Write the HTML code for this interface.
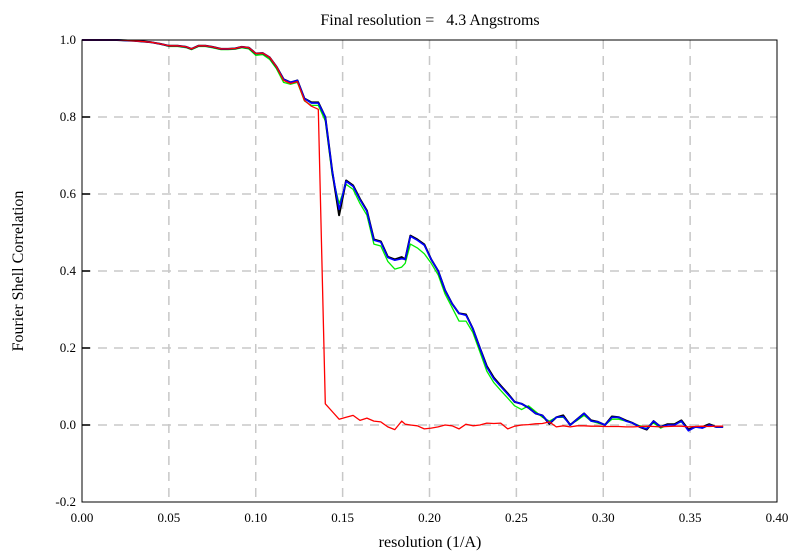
<!DOCTYPE html>
<html><head><meta charset="utf-8"><style>
body{margin:0;background:#fff;}
svg text{font-family:"Liberation Serif",serif;fill:#000;}
</style></head><body>
<svg id="chart" width="800" height="555" xmlns="http://www.w3.org/2000/svg">
<text x="430" y="25" font-size="16" text-anchor="middle" xml:space="preserve">Final resolution =   4.3 Angstroms</text>
<text x="430" y="547" font-size="16" text-anchor="middle">resolution (1/A)</text>
<text x="0" y="0" font-size="16" text-anchor="middle" transform="translate(23,271) rotate(-90)">Fourier Shell Correlation</text>
<g id="grid"></g>
<g id="series"></g>
<rect x="82" y="40" width="695" height="462" fill="none" stroke="#000" stroke-width="1"/>
<g id="ticks"></g>
</svg>
<script>
const xTicks=[0,0.05,0.10,0.15,0.20,0.25,0.30,0.35,0.40];
const xTickLabels=["0.00","0.05","0.10","0.15","0.20","0.25","0.30","0.35","0.40"];
const yTicks=[-0.2,0,0.2,0.4,0.6,0.8,1.0];
const yTickLabels=["-0.2","0.0","0.2","0.4","0.6","0.8","1.0"];
const xs=[0,0.005,0.01,0.015,0.02,0.025,0.03,0.035,0.04,0.045,0.05,0.055,0.06,0.063,0.067,0.071,0.075,0.08,0.084,0.088,0.092,0.096,0.1,0.104,0.108,0.112,0.116,0.12,0.124,0.128,0.132,0.136,0.14,0.144,0.148,0.152,0.156,0.16,0.164,0.168,0.172,0.176,0.18,0.184,0.186,0.189,0.193,0.197,0.201,0.205,0.209,0.213,0.217,0.221,0.225,0.229,0.233,0.237,0.241,0.245,0.249,0.253,0.257,0.261,0.265,0.269,0.273,0.277,0.281,0.285,0.289,0.293,0.297,0.301,0.305,0.309,0.313,0.317,0.321,0.325,0.329,0.333,0.337,0.341,0.345,0.349,0.353,0.357,0.361,0.365,0.369];
const blueVals=[1,1,1,1,1,0.999,0.998,0.996,0.994,0.99,0.985,0.985,0.982,0.977,0.985,0.985,0.982,0.977,0.977,0.978,0.982,0.98,0.965,0.966,0.955,0.93,0.898,0.89,0.895,0.848,0.836,0.836,0.8,0.66,0.56,0.633,0.62,0.585,0.555,0.48,0.475,0.435,0.428,0.432,0.43,0.49,0.48,0.467,0.43,0.4,0.35,0.315,0.29,0.285,0.25,0.2,0.15,0.12,0.1,0.08,0.06,0.055,0.045,0.03,0.025,0.005,0.02,0.022,0,0.015,0.03,0.01,0.008,0,0.02,0.02,0.01,0.005,-0.005,-0.01,0.01,-0.005,0,0,0.01,-0.015,-0.005,-0.008,0,-0.005,-0.005];
const blackVals=[1,1,1,1,1,0.999,0.998,0.996,0.994,0.99,0.985,0.985,0.982,0.977,0.985,0.985,0.982,0.977,0.977,0.978,0.982,0.98,0.965,0.966,0.955,0.93,0.898,0.89,0.895,0.848,0.838,0.838,0.8,0.66,0.545,0.635,0.622,0.587,0.557,0.482,0.477,0.437,0.43,0.436,0.43,0.492,0.482,0.469,0.43,0.4,0.35,0.315,0.29,0.287,0.25,0.2,0.153,0.123,0.102,0.082,0.06,0.055,0.045,0.03,0.025,0.003,0.02,0.025,0,0.015,0.03,0.012,0.008,0,0.022,0.02,0.012,0.005,-0.005,-0.012,0.01,-0.005,0.002,0.002,0.012,-0.012,-0.005,-0.005,0.002,-0.005,-0.005];
const greenVals=[1,1,1,1,1,0.999,0.998,0.996,0.994,0.99,0.983,0.983,0.98,0.975,0.983,0.983,0.98,0.975,0.975,0.976,0.98,0.977,0.96,0.962,0.95,0.925,0.89,0.885,0.89,0.842,0.83,0.83,0.79,0.65,0.575,0.625,0.612,0.575,0.545,0.47,0.465,0.425,0.405,0.41,0.42,0.47,0.46,0.445,0.42,0.39,0.34,0.305,0.27,0.27,0.24,0.19,0.14,0.11,0.09,0.07,0.05,0.04,0.05,0.035,0.02,0.01,0.02,0.02,0.002,0.012,0.025,0.01,0.005,0,0.015,0.015,0.01,0.005,-0.002,-0.005,0.005,-0.008,0,0.002,0.008,-0.012,-0.005,-0.008,0,-0.005,-0.005];
const redVals=[1,1,1,1,1,0.999,0.998,0.996,0.994,0.99,0.985,0.985,0.982,0.977,0.985,0.985,0.982,0.977,0.977,0.978,0.982,0.98,0.965,0.966,0.955,0.93,0.895,0.887,0.892,0.843,0.828,0.82,0.055,0.035,0.015,0.02,0.025,0.012,0.018,0.01,0.008,-0.005,-0.012,0.01,0.002,0,-0.002,-0.01,-0.008,-0.005,0,-0.002,-0.01,0.002,-0.002,0,0.005,0.004,0.005,-0.01,-0.003,0,0.001,0.003,0.004,0.008,-0.005,-0.002,-0.005,-0.002,-0.002,-0.003,-0.003,-0.004,-0.004,-0.004,-0.005,-0.005,-0.004,-0.003,-0.004,-0.005,-0.004,-0.003,-0.003,-0.005,-0.004,-0.003,-0.004,-0.003,-0.003];
const NS="http://www.w3.org/2000/svg";
const X=v=>82+v*(695/0.4);
const Y=v=>425-v*385;
const grid=document.getElementById('grid'),ticks=document.getElementById('ticks'),series=document.getElementById('series');
function mk(tag,attrs,parent){const e=document.createElementNS(NS,tag);for(const k in attrs)e.setAttribute(k,attrs[k]);parent.appendChild(e);return e;}
xTicks.forEach((t,i)=>{
  if(i>0&&i<xTicks.length-1){const l=mk('line',{x1:X(t),x2:X(t),y1:40,y2:502,stroke:'#c8c8c8','stroke-dasharray':'9,7','stroke-width':1.5},grid);
  
  }
  const tx=mk('text',{x:X(t),y:522,'font-size':13,'text-anchor':'middle'},ticks);tx.textContent=xTickLabels[i];
  
  
});
yTicks.forEach((t,i)=>{
  if(t>-0.2&&t<1){const l=mk('line',{x1:82,x2:777,y1:Y(t),y2:Y(t),stroke:'#c8c8c8','stroke-dasharray':'9,7','stroke-width':1.5},grid);
  
  
  const tk=mk('line',{x1:82,x2:90,y1:Y(t),y2:Y(t),stroke:'#000','stroke-width':1.5},ticks);
  
  }
  const tx=mk('text',{x:76,y:Y(t)+4,'font-size':13,'text-anchor':'end'},ticks);tx.textContent=yTickLabels[i];
  
  
});
function line(vals,color,w,name){
  const d=vals.map((v,i)=>(i?'L':'M')+X(xs[i]).toFixed(1)+','+Y(v).toFixed(1)).join(' ');
  const p=mk('path',{d:d,fill:'none',stroke:color,'stroke-width':w,'stroke-linejoin':'round'},series);
  
  
}
line(greenVals,'#00ee00',1.3,'green-series');
line(blackVals,'#000000',2,'black-series');
line(blueVals,'#0000ff',1.6,'blue-series');
line(redVals,'#ff0000',1.3,'red-series');
</script>
</body></html>
